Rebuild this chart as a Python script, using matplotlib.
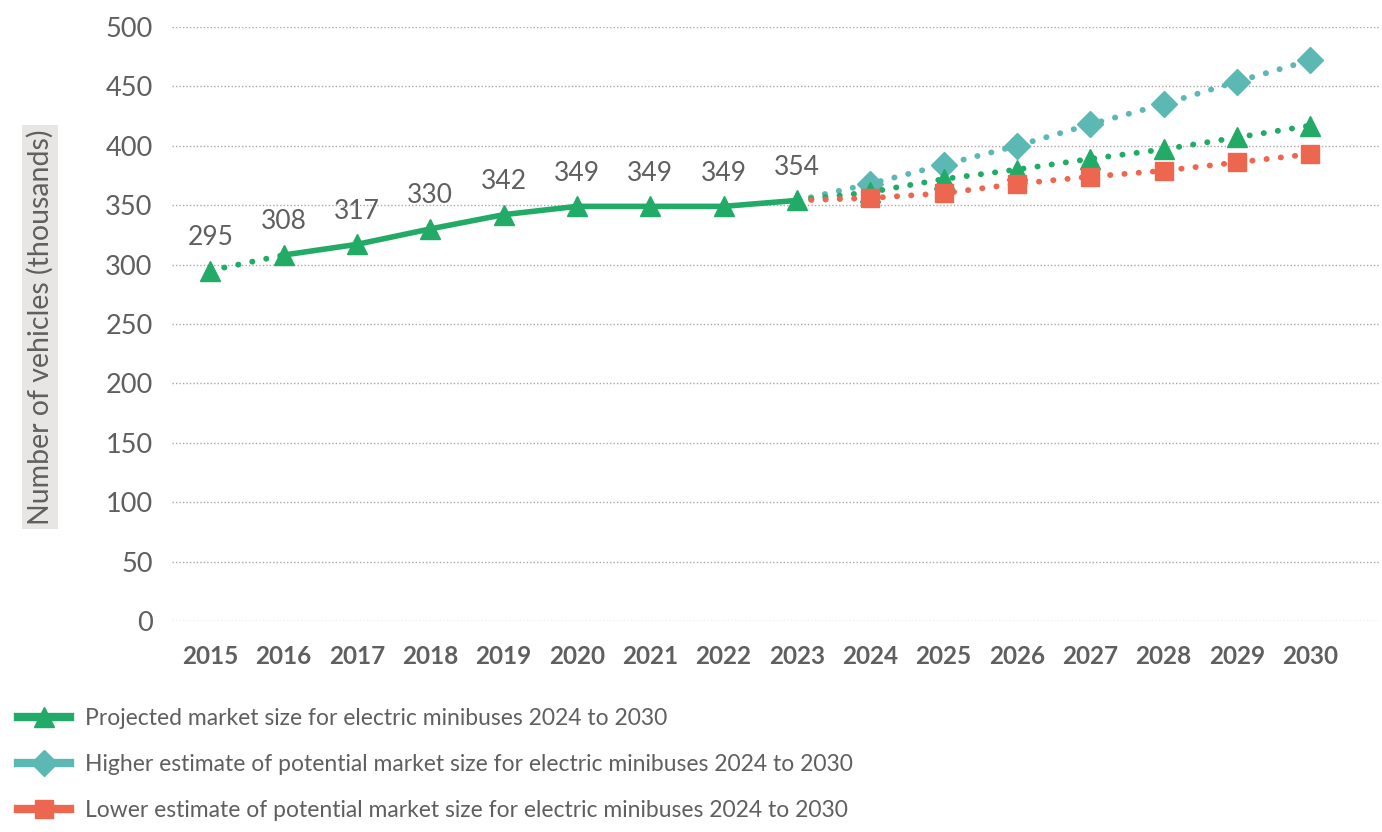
import matplotlib.pyplot as plt
from matplotlib.lines import Line2D
import numpy as np

plt.rcParams['font.family'] = ['Lato', 'DejaVu Sans']

# ---- data (thousands of vehicles) ----
years = np.arange(2015, 2031)
hist_years = np.arange(2015, 2024)
hist_vals = [295, 308, 317, 330, 342, 349, 349, 349, 354]

proj_years = np.arange(2023, 2031)
projected = [354, 361, 372, 380, 389, 397, 407, 417]
higher = [354, 368, 384, 400, 418, 435, 454, 472]
lower = [354, 356, 360, 368, 374, 379, 386, 393]

legend_labels = [
    'Projected market size for electric minibuses 2024 to 2030',
    'Higher estimate of potential market size for electric minibuses 2024 to 2030',
    'Lower estimate of potential market size for electric minibuses 2024 to 2030',
]

GREEN = '#22ab66'
TEAL = '#5bb8b3'
RED = '#ec6650'
GREY = '#5f5f5f'
DOTS = (0, (0.05, 2.4))

fig = plt.figure(figsize=(13.82, 8.32), dpi=100)
ax = fig.add_axes([0.1245, 0.2536, 0.874, 0.714])

# projections first so the historic triangle at 2023 sits on top
every = list(range(1, len(proj_years)))
ax.plot(proj_years, higher, color=TEAL, lw=4.2, ls=DOTS, dash_capstyle='round',
        marker='D', ms=13, markevery=every, clip_on=False, zorder=3)
ax.plot(proj_years, projected, color=GREEN, lw=4.2, ls=DOTS, dash_capstyle='round',
        marker='^', ms=15, markevery=every, clip_on=False, zorder=4)
ax.plot(proj_years, lower, color=RED, lw=4.2, ls=DOTS, dash_capstyle='round',
        marker='s', ms=12.5, markevery=every, clip_on=False, zorder=5)

# 2015-2016 is dotted, 2016 onwards solid
ax.plot(hist_years[:2], hist_vals[:2], color=GREEN, lw=4.2, ls=DOTS,
        dash_capstyle='round', zorder=6)
ax.plot(hist_years[1:], hist_vals[1:], color=GREEN, lw=4, solid_capstyle='butt', zorder=6)
ax.plot(hist_years, hist_vals, color=GREEN, ls='none', marker='^', ms=15, zorder=7)

for x, v in zip(hist_years, hist_vals):
    ax.annotate(f'{v}', (x, v), xytext=(0, 24), textcoords='offset points',
                ha='center', va='center', fontsize=19, color=GREY)

ax.set_xlim(2014.48, 2030.95)
ax.set_ylim(0, 500)
ax.set_yticks(np.arange(0, 501, 50))
ax.set_xticks(years)
ax.set_xticklabels([str(y) for y in years], fontweight='bold', fontsize=17.5, color=GREY)
ax.tick_params(axis='y', length=0, pad=14, labelsize=19.5, labelcolor=GREY)
ax.tick_params(axis='x', length=0, pad=17)

ax.yaxis.grid(True, color='#a8a8a8', lw=1, ls=(0, (1, 1.5)))
ax.set_axisbelow(True)
for s in ax.spines.values():
    s.set_visible(False)

fig.text(40 / 1382, 1 - 327 / 832, 'Number of vehicles (thousands)', rotation=90,
         ha='center', va='center', fontsize=20.5, color=GREY,
         bbox=dict(boxstyle='square,pad=0.15', facecolor='#e7e6e5', edgecolor='none'))

handles = [
    Line2D([], [], color=GREEN, lw=6, marker='^', ms=15),
    Line2D([], [], color=TEAL, lw=6, marker='D', ms=13),
    Line2D([], [], color=RED, lw=6, marker='s', ms=12.5),
]
fig.legend(handles, legend_labels, loc='upper left', bbox_to_anchor=(0.013, 0.149),
           frameon=False, fontsize=16.5, labelcolor=GREY, handlelength=2.27,
           handletextpad=0.65, labelspacing=1.1, borderpad=0, borderaxespad=0,
           numpoints=1)

fig.savefig('out.png', dpi=100)
